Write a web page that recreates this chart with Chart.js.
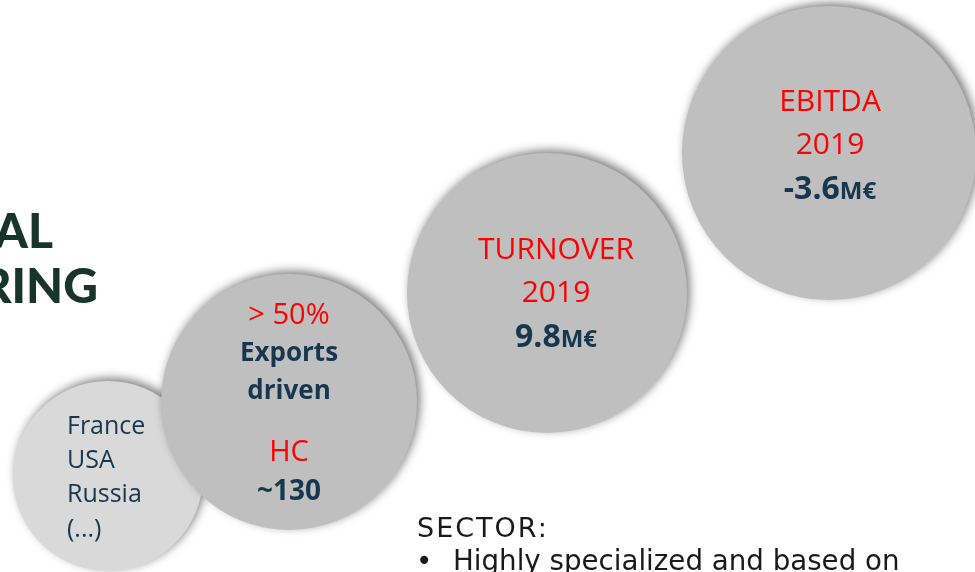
<!DOCTYPE html>
<html>
<head>
<meta charset="utf-8">
<script src="https://cdn.jsdelivr.net/npm/chart.js@4.4.0/dist/chart.umd.min.js"></script>
<style>
  body { margin: 0; background: #fff; }
  canvas { display: block; }
</style>
</head>
<body>
<canvas id="canvas" width="975" height="572"></canvas>
<script>
// circles (page units, y going down)
const circleX = [108, 289, 547, 829];
const circleY = [476, 402, 293, 153];
const circleR = [95, 128, 140, 147];
const circleFill = ['#d9d9d9', '#bfbfbf', '#bfbfbf', '#bfbfbf'];

// texts inside the circles
const countries = ['France', 'USA', 'Russia', '(...)'];
const exportsText = ['> 50%', 'Exports', 'driven', 'HC', '~130'];
const turnoverText = ['TURNOVER', '2019', '9.8', 'M€'];
const ebitdaText = ['EBITDA', '2019', '-3.6', 'M€'];

const red = '#ff0000';
const navy = '#17374f';
const font = '"Open Sans", sans-serif';

let ctx = document.getElementById('canvas').getContext('2d');

const shadowPlugin = {
    id: 'shadow',
    beforeDatasetsDraw(chart) {
        let c = chart.ctx;
        c.save();
        c.shadowColor = 'rgba(0,0,0,0.5)';
        c.shadowBlur = 10;
        c.shadowOffsetX = 3;
        c.shadowOffsetY = -3;
    },
    afterDatasetsDraw(chart) {
        chart.ctx.restore();
    }
};

function txt(c, s, x, y, color, bold, size, align) {
    c.font = (bold ? 'bold ' : '') + size + 'px ' + font;
    c.fillStyle = color;
    c.textAlign = align || 'center';
    c.textBaseline = 'middle';
    c.fillText(s, x, y);
}

// number + small "M€" centred together
function money(c, num, unit, x, y) {
    c.font = 'bold 32px ' + font;
    let w1 = c.measureText(num).width;
    c.font = 'bold 24px ' + font;
    let w2 = c.measureText(unit).width;
    let left = x - (w1 + w2) / 2;
    c.textBaseline = 'alphabetic';
    c.textAlign = 'left';
    c.fillStyle = navy;
    c.font = 'bold 32px ' + font;
    c.fillText(num, left, y + 11);
    c.font = 'bold 24px ' + font;
    c.fillText(unit, left + w1, y + 11);
}

const textPlugin = {
    id: 'texts',
    afterDraw(chart) {
        let c = chart.ctx;
        let sx = chart.scales.x, sy = chart.scales.y;
        let X = v => sx.getPixelForValue(v), Y = v => sy.getPixelForValue(v);
        c.save();

        // cut-off title at the left
        c.font = '900 48px "Lato", sans-serif';
        c.fillStyle = '#17352b';
        c.textAlign = 'right';
        c.textBaseline = 'alphabetic';
        c.fillText('AL', X(53), Y(248));
        c.fillText('RING', X(98), Y(303));

        // circle 1
        let ys = [427, 461, 495, 530];
        countries.forEach((s, i) => txt(c, s, X(67), Y(ys[i]), navy, false, 25, 'left'));

        // circle 2
        txt(c, exportsText[0], X(289), Y(316), red, false, 29);
        txt(c, exportsText[1], X(289), Y(354), navy, true, 26);
        txt(c, exportsText[2], X(289), Y(392), navy, true, 26);
        txt(c, exportsText[3], X(289), Y(453), red, false, 29);
        txt(c, exportsText[4], X(289), Y(492), navy, true, 28);

        // circle 3
        txt(c, turnoverText[0], X(556), Y(250), red, false, 30);
        txt(c, turnoverText[1], X(556), Y(293), red, false, 30);
        money(c, turnoverText[2], turnoverText[3], X(556), Y(336));

        // circle 4
        txt(c, ebitdaText[0], X(830), Y(102), red, false, 30);
        txt(c, ebitdaText[1], X(830), Y(145), red, false, 30);
        money(c, ebitdaText[2], ebitdaText[3], X(830), Y(188));

        // sector text
        c.textAlign = 'left';
        c.textBaseline = 'alphabetic';
        c.fillStyle = '#1a1a1a';
        c.font = '27px "DejaVu Sans", sans-serif';
        c.letterSpacing = '2px';
        c.fillText('SECTOR:', X(417), Y(537));
        c.letterSpacing = '0px';
        c.font = '27.7px "DejaVu Sans", sans-serif';
        c.fillText('•', X(416), Y(570));
        c.fillText('Highly specialized and based on', X(453), Y(570));
        c.restore();
    }
};

let myChart = new Chart(ctx, {
    type: 'bubble',
    data: {
        datasets: [{
            data: circleX.map((x, i) => ({ x: x, y: circleY[i], r: circleR[i] })),
            backgroundColor: circleFill,
            borderWidth: 0,
            hoverRadius: 0,
            clip: false
        }]
    },
    options: {
        responsive: false,
        animation: false,
        layout: { padding: 0, autoPadding: false },
        plugins: { legend: { display: false }, tooltip: { enabled: false } },
        events: [],
        scales: {
            x: { type: 'linear', min: 0, max: 975, display: false },
            y: { type: 'linear', min: 0, max: 572, reverse: true, display: false }
        }
    },
    plugins: [shadowPlugin, textPlugin]
});
</script>
</body>
</html>
